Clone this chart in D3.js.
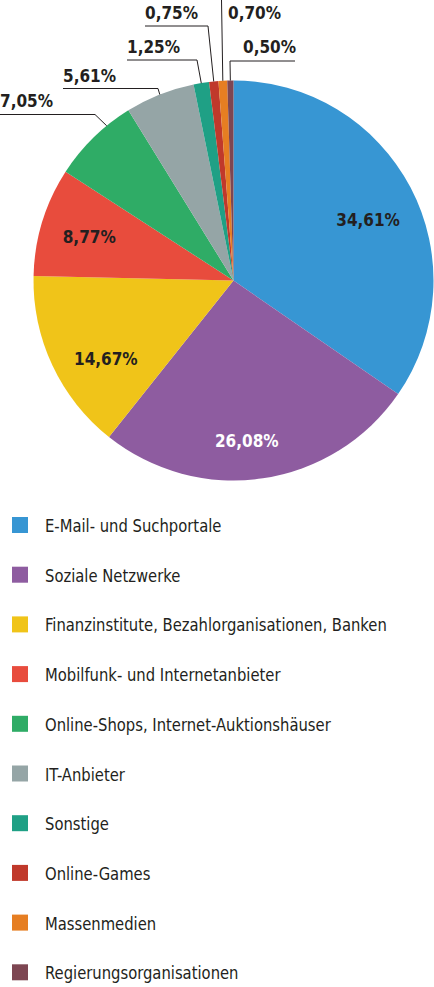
<!DOCTYPE html>
<html>
<head>
<meta charset="utf-8">
<script src="https://cdn.jsdelivr.net/npm/d3@7"></script>
<style>
  body { margin: 0; background: #fff; }
  text { font-family: "DejaVu Sans Condensed", "Liberation Sans Narrow", sans-serif; fill: #231f20; }
</style>
</head>
<body>
<div id="chart"></div>
<script>
// data
var categories = ["E-Mail- und Suchportale", "Soziale Netzwerke", "Finanzinstitute, Bezahlorganisationen, Banken",
  "Mobilfunk- und Internetanbieter", "Online-Shops, Internet-Auktionshäuser", "IT-Anbieter",
  "Sonstige", "Online-Games", "Massenmedien", "Regierungsorganisationen"]
var values = [34.61, 26.08, 14.67, 8.77, 7.05, 5.61, 1.25, 0.75, 0.70, 0.50]
var labels = ["34,61%", "26,08%", "14,67%", "8,77%", "7,05%", "5,61%", "1,25%", "0,75%", "0,70%", "0,50%"]
var colors = ["#3796d3", "#8e5ca0", "#f0c419", "#e84c3d", "#2fac66", "#95a5a6", "#1fa085", "#c0392b", "#e67e22", "#7d4652"]

var svgWidth = 434, svgHeight = 987
var cx = 233.5, cy = 280.5, radius = 200

var svg = d3.select("#chart").append("svg")
  .attr("width", svgWidth)
  .attr("height", svgHeight)

var pie = d3.pie().sort(null).value(d => d)
var arcs = pie(values)
var arc = d3.arc().innerRadius(0).outerRadius(radius)
var labelArc = d3.arc().innerRadius(152).outerRadius(152)

var pieGroup = svg.append("g")
  .attr("transform", "translate(" + cx + "," + cy + ")")

pieGroup.selectAll("path")
  .data(arcs)
  .enter()
  .append("path")
    .attr("d", arc)
    .style("fill", (d, i) => colors[i])

// labels inside the big slices (small nudges off the centroid, like the original)
var nudge = [[0, 10], [-9, 10], [10, 14], [1, 1]]
pieGroup.selectAll(".inlabel")
  .data(arcs.slice(0, 4))
  .enter()
  .append("text")
    .attr("class", "inlabel")
    .attr("transform", (d, i) => {
      var c = labelArc.centroid(d)
      return "translate(" + (c[0] + nudge[i][0]) + "," + (c[1] + nudge[i][1]) + ")"
    })
    .attr("text-anchor", "middle")
    .attr("dy", "0.36em")
    .style("font-size", "17px")
    .style("font-weight", "bold")
    .style("fill", (d, i) => i == 1 ? "#fff" : "#231f20")
    .text((d, i) => labels[i])

// callouts for the small slices: where the line bends and where the text sits
var callouts = [
  {i: 4, frac: 0.7, pts: [[0, 114.5], [95, 114.5]], tx: 0, ty: 107},
  {i: 5, frac: 0.5, pts: [[63, 88.5], [158, 88.5]], tx: 63, ty: 82},
  {i: 6, frac: 0.5, pts: [[127, 60], [197, 60]], tx: 127, ty: 53},
  {i: 7, frac: 0.5, pts: [[145, 26], [208, 26]], tx: 145, ty: 19},
  {i: 8, frac: 0.5, pts: [[221.5, 0]], tx: 228, ty: 19},
  {i: 9, frac: 0.5, pts: [[295, 61], [230, 61]], tx: 243, ty: 53}
]

function edgePoint(d, frac) {
  var a = d.startAngle + frac * (d.endAngle - d.startAngle)
  return [cx + radius * Math.sin(a), cy - radius * Math.cos(a)]
}

svg.selectAll(".leader")
  .data(callouts)
  .enter()
  .append("path")
    .attr("class", "leader")
    .attr("d", c => d3.line()(c.pts.concat([edgePoint(arcs[c.i], c.frac)])))
    .style("fill", "none")
    .style("stroke", "#231f20")
    .style("stroke-width", 1)

svg.selectAll(".outlabel")
  .data(callouts)
  .enter()
  .append("text")
    .attr("class", "outlabel")
    .attr("x", c => c.tx)
    .attr("y", c => c.ty)
    .style("font-size", "17px")
    .style("font-weight", "bold")
    .text(c => labels[c.i])

// legend
var legend = svg.selectAll(".legend")
  .data(categories)
  .enter()
  .append("g")
    .attr("class", "legend")
    .attr("transform", (d, i) => "translate(0," + (525 + i * 49.7) + ")")

legend.append("rect")
  .attr("x", 12)
  .attr("y", -8)
  .attr("width", 16)
  .attr("height", 16)
  .style("fill", (d, i) => colors[i])

legend.append("text")
  .attr("transform", "translate(45,7) scale(0.94,1)")
  .style("font-size", "17.5px")
  .text(d => d)
</script>
</body>
</html>
